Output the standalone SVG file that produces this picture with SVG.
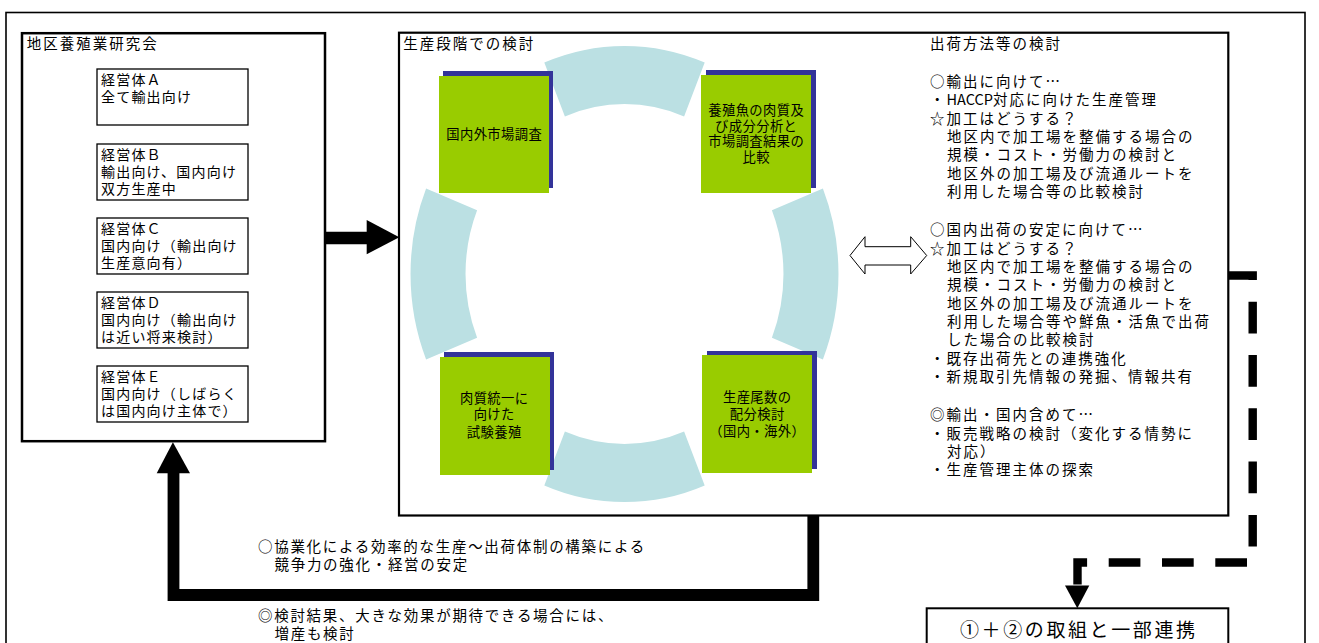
<svg xmlns="http://www.w3.org/2000/svg" width="1319" height="643" viewBox="0 0 1319 643">
<defs>
<style>
text{font-family:"Noto Sans CJK JP","Noto Sans CJK SC",sans-serif;fill:#000;}
.t{font-size:14.5px;letter-spacing:2px;}
.m{font-size:14.5px;letter-spacing:1.7px;}
.s{font-size:14px;letter-spacing:1.2px;}
.g{font-size:13.3px;letter-spacing:0.4px;text-anchor:middle;}
.b{font-size:19px;letter-spacing:2.6px;text-anchor:middle;}
.frame{fill:#fff;stroke:#000;}
.sub{fill:#fff;stroke:#000;stroke-width:1.3;}
.ring{fill:#BBE0E3;}
.shadow{fill:#333399;}
.green{fill:#99CC00;}
</style>
</defs>
<rect width="1319" height="643" fill="#fff"/>
<rect id="outer-frame" x="6" y="12.5" width="1299" height="700" fill="none" stroke="#000" stroke-width="1.6"/>

<g id="group-left">
<rect class="frame" x="22" y="33.2" width="303" height="408" stroke-width="2.5"/>
<text class="t" x="26.7" y="48.7">地区養殖業研究会</text>
</g>
<g id="node-a">
<rect class="sub" x="97" y="69" width="151" height="56"/>
<text class="s"><tspan x="101" y="85.2">経営体Ａ</tspan><tspan x="101" y="101.9">全て輸出向け</tspan></text>
</g>
<g id="node-b">
<rect class="sub" x="97" y="144" width="151" height="56"/>
<text class="s"><tspan x="101" y="160.2">経営体Ｂ</tspan><tspan x="101" y="176.9">輸出向け、国内向け</tspan><tspan x="101" y="193.5">双方生産中</tspan></text>
</g>
<g id="node-c">
<rect class="sub" x="97" y="218" width="151" height="56"/>
<text class="s"><tspan x="101" y="234.2">経営体Ｃ</tspan><tspan x="101" y="250.9">国内向け（輸出向け</tspan><tspan x="101" y="267.5">生産意向有）</tspan></text>
</g>
<g id="node-d">
<rect class="sub" x="97" y="292" width="151" height="56"/>
<text class="s"><tspan x="101" y="308.2">経営体Ｄ</tspan><tspan x="101" y="324.9">国内向け（輸出向け</tspan><tspan x="101" y="341.5">は近い将来検討）</tspan></text>
</g>
<g id="node-e">
<rect class="sub" x="97" y="366" width="151" height="56"/>
<text class="s"><tspan x="101" y="382.2">経営体Ｅ</tspan><tspan x="101" y="398.9">国内向け（しばらく</tspan><tspan x="101" y="415.5">は国内向け主体で）</tspan></text>
</g>

<g id="group-middle">
<rect class="frame" x="399" y="32.7" width="829.3" height="482.8" stroke-width="2.2"/>
<text class="t" x="403.3" y="49.4">生産段階での検討</text>
</g>

<g id="cycle-ring">
<path class="ring" d="M544.3,62.6 A214,228 0 0 1 704.7,62.6 L684.1,116.4 A159,170 0 0 0 564.9,116.4 Z"/>
<path class="ring" d="M426.1,359.4 A214,228 0 0 1 426.1,188.6 L477.1,210.3 A159,170 0 0 0 477.1,337.7 Z"/>
<path class="ring" d="M822.9,188.6 A214,228 0 0 1 822.9,359.4 L771.9,337.7 A159,170 0 0 0 771.9,210.3 Z"/>
<path class="ring" d="M704.7,485.4 A214,228 0 0 1 544.3,485.4 L564.9,431.6 A159,170 0 0 0 684.1,431.6 Z"/>
</g>

<g id="node-market">
<rect class="shadow" x="443" y="71" width="110" height="117"/>
<rect class="green" x="439" y="76" width="110" height="117"/>
<text class="g" x="494.2" y="139">国内外市場調査</text>
</g>
<g id="node-analysis">
<rect class="shadow" x="706" y="70" width="110" height="118"/>
<rect class="green" x="701" y="75" width="110" height="118"/>
<text class="g"><tspan x="756.2" y="114.9">養殖魚の肉質及</tspan><tspan x="756.2" y="130.6">び成分分析と</tspan><tspan x="756.2" y="146.2">市場調査結果の</tspan><tspan x="756.2" y="161.6">比較</tspan></text>
</g>
<g id="node-trial">
<rect class="shadow" x="444" y="352" width="110" height="118"/>
<rect class="green" x="440" y="357" width="110" height="118"/>
<text class="g"><tspan x="494.2" y="402.6">肉質統一に</tspan><tspan x="494.2" y="419.2">向けた</tspan><tspan x="494.2" y="436.6">試験養殖</tspan></text>
</g>
<g id="node-allocation">
<rect class="shadow" x="707" y="351" width="110" height="118"/>
<rect class="green" x="702" y="355" width="110" height="118"/>
<text class="g"><tspan x="757.2" y="401.6">生産尾数の</tspan><tspan x="757.2" y="419.2">配分検討</tspan><tspan x="757.2" y="435.9">（国内・海外）</tspan></text>
</g>

<g id="node-shipping">
<text class="t" x="930" y="48.7">出荷方法等の検討</text>
<text class="t"><tspan x="930" y="87.1">○輸出に向けて…</tspan><tspan x="930" y="105.4">・<tspan letter-spacing="0">HACCP</tspan>対応に向けた生産管理</tspan><tspan x="930" y="123.7">☆加工はどうする？</tspan><tspan x="947" y="142.1">地区内で加工場を整備する場合の</tspan><tspan x="947" y="160.4">規模・コスト・労働力の検討と</tspan><tspan x="947" y="178.7">地区外の加工場及び流通ルートを</tspan><tspan x="947" y="197.1">利用した場合等の比較検討</tspan></text>
<text class="t"><tspan x="930" y="235.4">○国内出荷の安定に向けて…</tspan><tspan x="930" y="253.7">☆加工はどうする？</tspan><tspan x="947" y="272.1">地区内で加工場を整備する場合の</tspan><tspan x="947" y="290.4">規模・コスト・労働力の検討と</tspan><tspan x="947" y="308.7">地区外の加工場及び流通ルートを</tspan><tspan x="947" y="327.1">利用した場合等や鮮魚・活魚で出荷</tspan><tspan x="947" y="345.4">した場合の比較検討</tspan><tspan x="930" y="363.7">・既存出荷先との連携強化</tspan><tspan x="930" y="382.1">・新規取引先情報の発掘、情報共有</tspan></text>
<text class="t"><tspan x="930" y="420.4">◎輸出・国内含めて…</tspan><tspan x="930" y="438.7">・販売戦略の検討（変化する情勢に</tspan><tspan x="947" y="457.1">対応）</tspan><tspan x="930" y="475.4">・生産管理主体の探索</tspan></text>
</g>

<g id="node-joint">
<rect class="frame" x="926.7" y="608.3" width="301.6" height="60" stroke-width="2"/>
<text class="b" x="1078.8" y="637">①＋②の取組と一部連携</text>
</g>

<g id="feedback-labels">
<text class="m"><tspan x="258" y="552.1">○協業化による効率的な生産～出荷体制の構築による</tspan><tspan x="274.5" y="570.4">競争力の強化・経営の安定</tspan></text>
<text class="m"><tspan x="258" y="621.1">◎検討結果、大きな効果が期待できる場合には、</tspan><tspan x="274.5" y="638.7">増産も検討</tspan></text>
</g>

<g id="connectors">
<path d="M325,238 H368" fill="none" stroke="#000" stroke-width="12.6"/>
<polygon points="366.7,220 399.3,237.2 366.7,254.3" fill="#000"/>
<polygon points="850,255.5 865,236.7 865,246.7 910.7,246.7 910.7,236.7 926.7,255.5 910.7,274 910.7,265 865,265 865,274" fill="#fff" stroke="#000" stroke-width="1"/>
<path d="M813.3,515 V595 H173.5 V471" fill="none" stroke="#000" stroke-width="11.8" stroke-linejoin="miter"/>
<polygon points="156.7,473.3 190,473.3 172.9,442.3" fill="#000"/>
<path d="M1228,275.5 H1252.7 V562.5 H1077.5 V585.5" fill="none" stroke="#000" stroke-width="8.4" stroke-dasharray="31.7 21.6" stroke-dashoffset="2.4" stroke-linejoin="miter"/>
<polygon points="1065,585.5 1089.3,585.5 1077.3,608.3" fill="#000"/>
</g>
</svg>
